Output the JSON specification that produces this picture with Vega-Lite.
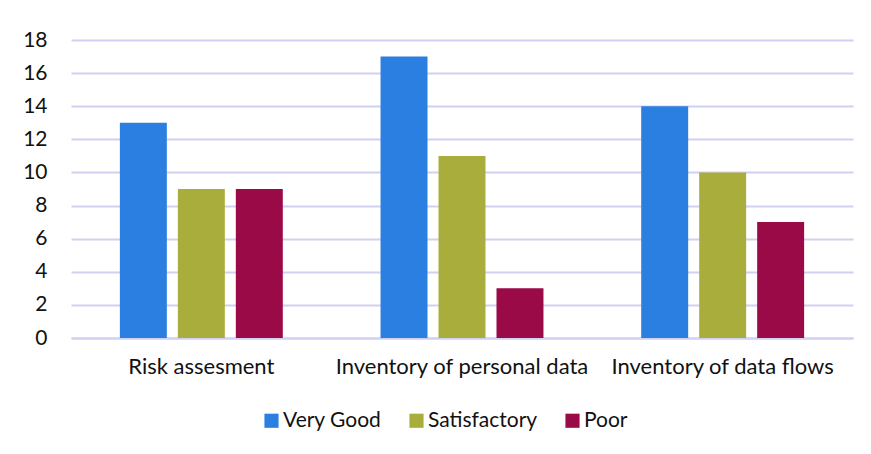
{
  "$schema": "https://vega.github.io/schema/vega-lite/v6.json",
  "width": 782,
  "height": 298,
  "autosize": {"type": "none"},
  "padding": {"left": 71, "top": 40, "right": 18, "bottom": 116},
  "background": "white",
  "data": {"values": [
    {"category": "Risk assesment", "rating": "Very Good", "value": 13},
    {"category": "Risk assesment", "rating": "Satisfactory", "value": 9},
    {"category": "Risk assesment", "rating": "Poor", "value": 9},
    {"category": "Inventory of personal data", "rating": "Very Good", "value": 17},
    {"category": "Inventory of personal data", "rating": "Satisfactory", "value": 11},
    {"category": "Inventory of personal data", "rating": "Poor", "value": 3},
    {"category": "Inventory of data flows", "rating": "Very Good", "value": 14},
    {"category": "Inventory of data flows", "rating": "Satisfactory", "value": 10},
    {"category": "Inventory of data flows", "rating": "Poor", "value": 7}
  ]},
  "mark": {"type": "bar"},
  "encoding": {
    "x": {
      "field": "category", "type": "nominal",
      "sort": ["Risk assesment", "Inventory of personal data", "Inventory of data flows"],
      "scale": {"paddingInner": 0.375, "paddingOuter": 0.1875},
      "axis": {"title": null, "labelAngle": 0, "ticks": false, "domain": true, "domainColor": "#d0d0f2", "domainWidth": 2, "labelFont": "Lato", "labelFontSize": 22, "labelColor": "#111111", "labelPadding": 18, "labelLimit": 0}
    },
    "xOffset": {
      "field": "rating", "type": "nominal",
      "sort": ["Very Good", "Satisfactory", "Poor"],
      "scale": {"paddingInner": 0.19, "paddingOuter": 0}
    },
    "y": {
      "field": "value", "type": "quantitative",
      "scale": {"domain": [0, 18], "nice": false},
      "axis": {"title": null, "values": [0, 2, 4, 6, 8, 10, 12, 14, 16, 18], "domain": false, "ticks": false, "gridColor": "#d0d0f2", "gridWidth": 2, "labelFont": "Lato", "labelFontSize": 21, "labelColor": "#111111", "labelPadding": 24}
    },
    "color": {
      "field": "rating", "type": "nominal",
      "sort": ["Very Good", "Satisfactory", "Poor"],
      "scale": {"domain": ["Very Good", "Satisfactory", "Poor"], "range": ["#2b7fe1", "#a8ad3b", "#990a47"]},
      "legend": {"title": null, "orient": "none", "direction": "horizontal", "legendX": 190, "legendY": 370, "symbolType": "square", "symbolSize": 200, "symbolStrokeWidth": 0, "symbolOpacity": 1, "labelFont": "Lato", "labelFontSize": 21, "labelColor": "#111111", "columnPadding": 24, "labelOffset": 1, "labelLimit": 0}
    }
  },
  "config": {"view": {"stroke": null}}
}
